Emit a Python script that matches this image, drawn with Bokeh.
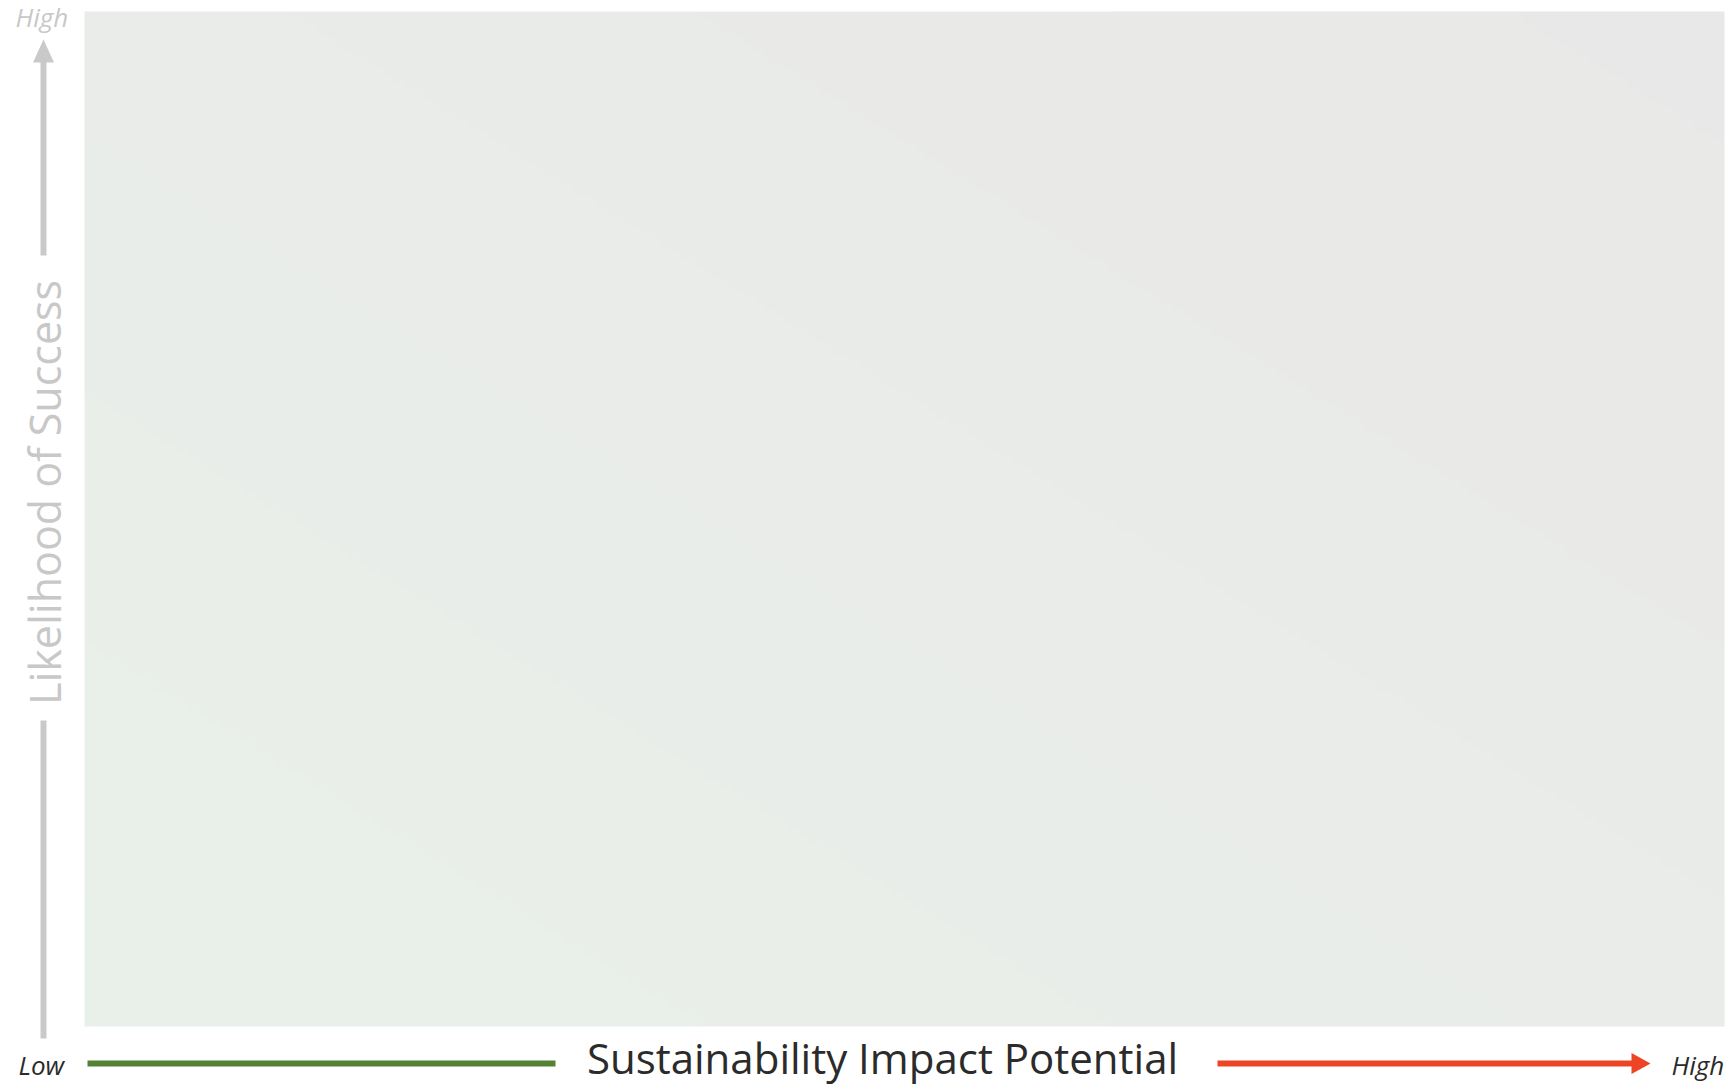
import numpy as np
from bokeh.plotting import figure
from bokeh.models import Range1d
from bokeh.core.properties import value
from bokeh.embed import file_html
from bokeh.resources import INLINE

# ---- chart content -------------------------------------------------------
x_axis_title = "Sustainability Impact Potential"
y_axis_title = "Likelihood of Success"
x_end_labels = ["Low", "High"]
y_end_labels = ["High"]

# background gradient colours (bottom-left -> top-right)
grad_start = [233, 240, 233]
grad_end = [233, 232, 232]

FONT = "Open Sans"
W, H = 1731, 1085  # canvas (pixel units)

p = figure(width=W, height=H, x_range=Range1d(0, W), y_range=Range1d(0, H),
           output_backend="svg", toolbar_location=None,
           x_axis_type=None, y_axis_type=None, min_border=0)
p.outline_line_color = None
p.background_fill_color = "white"
p.border_fill_color = "white"


def Y(v):
    return H - v


# ---- gradient panel --------------------------------------------------------
px0, px1, py0, py1 = 84, 1724, 11, 1026
nx, ny = 256, 160
u = np.linspace(0, 1, nx)[None, :]
v = np.linspace(0, 1, ny)[:, None]
t = (u + v) / 2.0
c0 = np.array(grad_start, dtype=float)
c1 = np.array(grad_end, dtype=float)
img = np.empty((ny, nx), dtype=np.uint32)
view = img.view(dtype=np.uint8).reshape((ny, nx, 4))
for k in range(3):
    view[..., k] = np.round(c0[k] * (1 - t) + c1[k] * t).astype(np.uint8)
view[..., 3] = 255
p.image_rgba(image=[img], x=px0, y=Y(py1), dw=px1 - px0, dh=py1 - py0)

# ---- vertical (y) arrow ----------------------------------------------------
gray = "#c9c9c9"
p.segment(x0=[43, 43], y0=[Y(60), Y(720)], x1=[43, 43], y1=[Y(255), Y(1038)],
          line_width=6, line_color=gray, line_cap="butt")
p.patches(xs=[[32.5, 43, 53.5]], ys=[[Y(62), Y(39), Y(62)]],
          fill_color=gray, line_color=None)

# ---- horizontal (x) arrows -------------------------------------------------
green = "#548235"
red = "#ed4424"
p.segment(x0=[87], y0=[Y(1063)], x1=[555], y1=[Y(1063)],
          line_width=6, line_color=green, line_cap="butt")
p.segment(x0=[1217], y0=[Y(1063)], x1=[1633], y1=[Y(1063)],
          line_width=6, line_color=red, line_cap="butt")
p.patches(xs=[[1631, 1650, 1631]], ys=[[Y(1052.5), Y(1063), Y(1073.5)]],
          fill_color=red, line_color=None)

# ---- texts -----------------------------------------------------------------
p.text(x=[882], y=[Y(1057)], text=[x_axis_title], text_font=value(FONT),
       text_font_size="42px", text_color="#2b2b2b",
       text_align="center", text_baseline="middle")
p.text(x=[43.5], y=[Y(492)], text=[y_axis_title], angle=np.pi / 2,
       text_font=value(FONT), text_font_size="43px", text_color="#c8c8c8",
       text_align="center", text_baseline="middle")
p.text(x=[18, 1671], y=[Y(1064), Y(1064)], text=x_end_labels,
       text_font=value(FONT), text_font_size="26px", text_font_style="italic",
       text_color="#2b2b2b", text_align="left", text_baseline="middle")
p.text(x=[15], y=[Y(16.5)], text=y_end_labels,
       text_font=value(FONT), text_font_size="26px", text_font_style="italic",
       text_color="#c8c8c8", text_align="left", text_baseline="middle")

open("out.html", "w").write(file_html(p, INLINE))
